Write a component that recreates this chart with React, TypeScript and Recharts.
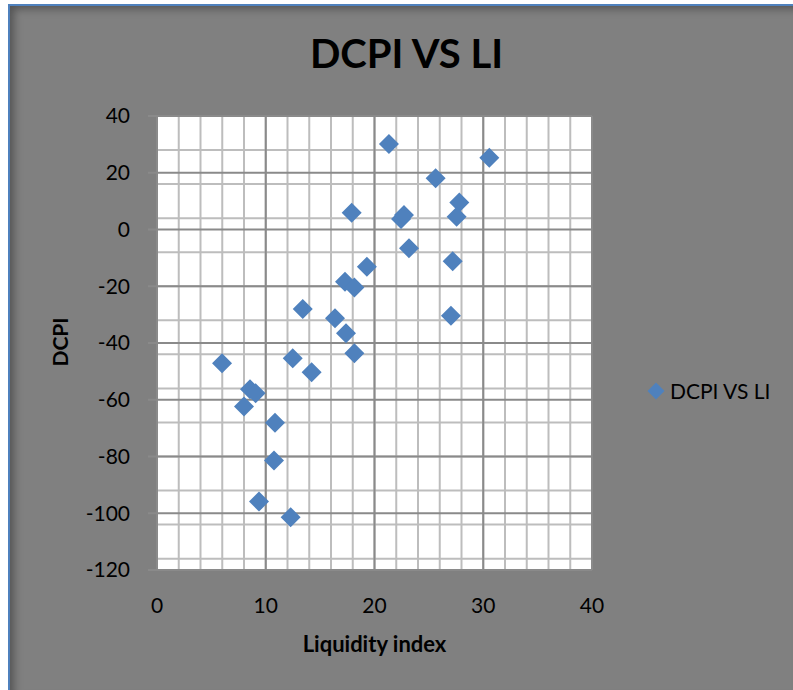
import { ScatterChart, Scatter, XAxis, YAxis, CartesianGrid, Legend } from 'recharts';

// Values
const seriesName = 'DCPI VS LI';
const liquidityIndex = [
  5.98, 8.55, 9.07, 8.0, 10.85, 10.76, 9.38, 12.29, 12.48, 14.22,
  13.4, 16.37, 17.38, 18.15, 17.29, 18.15, 19.3, 17.9, 21.33, 22.44,
  22.71, 23.17, 25.62, 27.8, 27.55, 27.19, 27.03, 30.56,
];
const dcpi = [
  -47.1, -56.3, -57.7, -62.4, -68.1, -81.4, -95.9, -101.4, -45.4, -50.3,
  -28.0, -31.3, -36.6, -43.6, -18.4, -20.4, -13.1, 5.9, 30.1, 3.7,
  5.1, -6.6, 18.1, 9.5, 4.5, -11.2, -30.4, 25.3,
];

const xTicks = [0, 10, 20, 30, 40];
const yTicks = [-120, -100, -80, -60, -40, -20, 0, 20, 40];
const xMinorTicks = [0, 2, 4, 6, 8, 10, 12, 14, 16, 18, 20, 22, 24, 26, 28, 30, 32, 34, 36, 38, 40];
const yMinorTicks = [
  -120, -116, -112, -108, -104, -100, -96, -92, -88, -84, -80, -76, -72, -68,
  -64, -60, -56, -52, -48, -44, -40, -36, -32, -28, -24, -20, -16, -12, -8, -4,
  0, 4, 8, 12, 16, 20, 24, 28, 32, 36, 40,
];

const data = liquidityIndex.map((x, i) => ({ x, y: dcpi[i] }));

const BLUE = '#4f81bd';

const Diamond = (props: any) => {
  const { cx, cy } = props;
  const r = 10;
  return <path d={`M${cx},${cy - r}L${cx + r},${cy}L${cx},${cy + r}L${cx - r},${cy}Z`} fill={BLUE} />;
};

const LegendBox = () => (
  <div style={{ display: 'flex', alignItems: 'center', fontSize: 21, lineHeight: '24px', color: '#000' }}>
    <svg width={18} height={18}>
      <path d="M9,0.5L17.5,9L9,17.5L0.5,9Z" fill={BLUE} />
    </svg>
    <span style={{ marginLeft: 5 }}>{seriesName}</span>
  </div>
);

const App = () => {
  return (
    <div
      style={{
        position: 'absolute',
        left: 8,
        top: 4,
        width: 783,
        height: 686,
        background: '#808080',
        borderLeft: `2px solid ${BLUE}`,
        borderTop: `2px solid ${BLUE}`,
        boxShadow: 'inset 6px 5px 8px -2px rgba(0,0,0,0.35)',
        fontFamily: 'Lato, sans-serif',
      }}
    >
      <div
        style={{
          position: 'absolute',
          left: 0,
          top: 23,
          width: 793,
          textAlign: 'center',
          fontSize: 40,
          lineHeight: '48px',
          fontWeight: 700,
          color: '#000',
        }}
      >
        DCPI VS LI
      </div>
      <ScatterChart width={783} height={684} margin={{ top: 110, right: 201, bottom: 80, left: 67 }}>
        <CartesianGrid
          stroke="#bdbdbd"
          strokeWidth={2}
          fill="#ffffff"
          horizontalValues={yMinorTicks}
          verticalValues={xMinorTicks}
        />
        <CartesianGrid stroke="#8a8a8a" strokeWidth={2} />
        <XAxis
          type="number"
          dataKey="x"
          domain={[0, 40]}
          ticks={xTicks}
          height={40}
          axisLine={false}
          tickLine={false}
          tickSize={0}
          tickMargin={28}
          tick={{ fill: '#000', fontSize: 21 }}
          label={{
            content: () => (
              <text x={364.5} y={645.5} textAnchor="middle" fontSize={22} fontWeight={700} fill="#000">
                Liquidity index
              </text>
            ),
          }}
        />
        <YAxis
          type="number"
          dataKey="y"
          domain={[-120, 40]}
          ticks={yTicks}
          width={80}
          axisLine={false}
          tickLine={{ stroke: '#8a8a8a', strokeWidth: 2 }}
          tickSize={9}
          tickMargin={18}
          tick={{ fill: '#000', fontSize: 21 }}
          label={{
            content: () => (
              <text
                x={49}
                y={336}
                transform="rotate(-90 49 336)"
                textAnchor="middle"
                dominantBaseline="central"
                fontSize={21}
                fontWeight={700}
                fill="#000"
              >
                DCPI
              </text>
            ),
          }}
        />
        <Legend
          layout="vertical"
          align="center"
          verticalAlign="middle"
          content={() => <LegendBox />}
          wrapperStyle={{ left: 637, top: 373, width: 150 }}
        />
        <Scatter name={seriesName} data={data} fill={BLUE} shape={Diamond} isAnimationActive={false} />
      </ScatterChart>
    </div>
  );
};

export default App;
